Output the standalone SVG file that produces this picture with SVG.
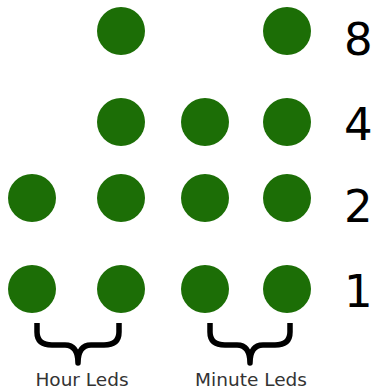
<svg xmlns="http://www.w3.org/2000/svg" width="378" height="391" viewBox="0 0 378 391">
<style>
.led{fill:#1c6e06}
.num{font-family:"DejaVu Sans",Verdana,sans-serif;font-size:45px;fill:#000}
.lbl{font-family:"DejaVu Sans",Verdana,sans-serif;font-size:18.5px;fill:#333;text-anchor:middle}
.brace{fill:none;stroke:#000;stroke-width:5.5;stroke-linejoin:round}
</style>
<rect width="378" height="391" fill="#fff"/>
<g id="row8">
<circle class="led" cx="121" cy="31" r="24"/>
<circle class="led" cx="287" cy="31" r="24"/>
<text class="num" x="344" y="55">8</text>
</g>
<g id="row4">
<circle class="led" cx="121" cy="122" r="24"/>
<circle class="led" cx="205" cy="122" r="24"/>
<circle class="led" cx="287" cy="122" r="24"/>
<text class="num" x="344" y="140">4</text>
</g>
<g id="row2">
<circle class="led" cx="32" cy="198" r="24"/>
<circle class="led" cx="121" cy="198" r="24"/>
<circle class="led" cx="205" cy="198" r="24"/>
<circle class="led" cx="287" cy="198" r="24"/>
<text class="num" x="344" y="222">2</text>
</g>
<g id="row1">
<circle class="led" cx="32" cy="289" r="24"/>
<circle class="led" cx="121" cy="289" r="24"/>
<circle class="led" cx="205" cy="289" r="24"/>
<circle class="led" cx="287" cy="289" r="24"/>
<text class="num" x="344" y="307">1</text>
</g>
<g id="connectors">
<path class="brace" d="M37,323 L37,332 Q37,345 52,345 L65,345 Q78,345 78,363 Q78,345 91,345 L104,345 Q119,345 119,332 L119,323"/>
<path class="brace" d="M210,323 L210,332 Q210,345 225,345 L237,345 Q250,345 250,363 Q250,345 263,345 L275,345 Q290,345 290,332 L290,323"/>
</g>
<g id="hour-label"><text class="lbl" x="82" y="386">Hour Leds</text></g>
<g id="minute-label"><text class="lbl" x="251" y="386">Minute Leds</text></g>
</svg>
